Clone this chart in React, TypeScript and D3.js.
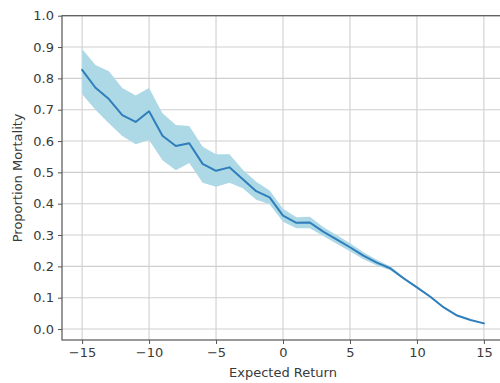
import React, { useEffect, useRef } from 'react';
import * as d3 from 'd3';

// expected return values (x) and mortality stats
const returns = [-15, -14, -13, -12, -11, -10, -9, -8, -7, -6, -5, -4, -3, -2, -1, 0, 1, 2, 3, 4, 5, 6, 7, 8, 9, 10, 11, 12, 13, 14, 15];
const meanMortality = [0.827, 0.770, 0.734, 0.683, 0.661, 0.695, 0.617, 0.584, 0.593, 0.527, 0.505, 0.516, 0.478, 0.440, 0.420, 0.362, 0.339, 0.340, 0.311, 0.286, 0.261, 0.234, 0.212, 0.194, 0.162, 0.133, 0.103, 0.069, 0.043, 0.029, 0.018];
const upperMortality = [0.894, 0.843, 0.823, 0.769, 0.745, 0.769, 0.689, 0.651, 0.648, 0.582, 0.558, 0.558, 0.508, 0.470, 0.442, 0.384, 0.357, 0.358, 0.326, 0.300, 0.274, 0.245, 0.221, 0.200, 0.166, 0.136, 0.106, 0.071, 0.045, 0.030, 0.019];
const lowerMortality = [0.749, 0.700, 0.657, 0.616, 0.590, 0.603, 0.539, 0.507, 0.530, 0.467, 0.454, 0.467, 0.449, 0.413, 0.398, 0.342, 0.322, 0.322, 0.297, 0.272, 0.248, 0.223, 0.203, 0.188, 0.158, 0.130, 0.100, 0.067, 0.041, 0.028, 0.017];
const xTicks = [-15, -10, -5, 0, 5, 10, 15];
const yTicks = [0, 0.1, 0.2, 0.3, 0.4, 0.5, 0.6, 0.7, 0.8, 0.9, 1.0];

const font = 'DejaVu Sans, sans-serif';

function App() {
  const ref = useRef<SVGSVGElement | null>(null);

  useEffect(() => {
    const svg = d3.select(ref.current);
    svg.selectAll('*').remove();

    const left = 62, right = 504, top = 15.7, bottom = 340;

    const x = d3.scaleLinear().domain([-16.5, 16.5]).range([left, right]);
    const y = d3.scaleLinear().domain([-0.035, 1.0]).range([bottom, top]);

    const rows = returns.map((r, i) => ({ r, m: meanMortality[i], hi: upperMortality[i], lo: lowerMortality[i] }));

    // grid
    const grid = svg.append('g').attr('stroke', '#cfcfcf').attr('stroke-width', 1.1);
    grid.selectAll('.gx').data(xTicks).enter().append('line')
      .attr('x1', d => x(d)).attr('x2', d => x(d)).attr('y1', top).attr('y2', bottom);
    grid.selectAll('.gy').data(yTicks).enter().append('line')
      .attr('x1', left).attr('x2', right).attr('y1', d => y(d)).attr('y2', d => y(d));

    // confidence band
    const area = d3.area<any>().x(d => x(d.r)).y0(d => y(d.lo)).y1(d => y(d.hi));
    svg.append('path').datum(rows).attr('d', area).attr('fill', '#add8e6');

    // mean line
    const line = d3.line<any>().x(d => x(d.r)).y(d => y(d.m));
    svg.append('path').datum(rows).attr('d', line)
      .attr('fill', 'none').attr('stroke', '#2f7ebc').attr('stroke-width', 2)
      .attr('stroke-linejoin', 'round').attr('stroke-linecap', 'round');

    // axes
    const xAxis = svg.append('g').attr('transform', `translate(0,${bottom})`)
      .call(d3.axisBottom(x).tickValues(xTicks).tickSize(4).tickPadding(4).tickFormat(d => d3.format('')(d as number).replace('-', '\u2212')));
    const yAxis = svg.append('g').attr('transform', `translate(${left},0)`)
      .call(d3.axisLeft(y).tickValues(yTicks).tickSize(4).tickPadding(4).tickFormat(d3.format('.1f')));

    [xAxis, yAxis].forEach(a => {
      a.select('.domain').remove();
      a.selectAll('line').attr('stroke', '#555');
      a.selectAll('text').attr('fill', '#3a3a3a').style('font-family', font).style('font-size', '13px');
    });

    // spines
    svg.append('rect').attr('x', left).attr('y', top).attr('width', right - left).attr('height', bottom - top)
      .attr('fill', 'none').attr('stroke', '#555').attr('stroke-width', 1.2);

    svg.append('text').attr('x', x(0)).attr('y', 377)
      .attr('text-anchor', 'middle').attr('fill', '#3a3a3a')
      .style('font-family', font).style('font-size', '13px').text('Expected Return');

    svg.append('text').attr('transform', `translate(22,${(top + bottom) / 2}) rotate(-90)`)
      .attr('text-anchor', 'middle').attr('fill', '#3a3a3a')
      .style('font-family', font).style('font-size', '13px').text('Proportion Mortality');
  }, []);

  return (
    <svg ref={ref} width={500} height={383} style={{ position: 'absolute', left: 0, top: 0, background: '#fff' }} />
  );
}

export default App;
